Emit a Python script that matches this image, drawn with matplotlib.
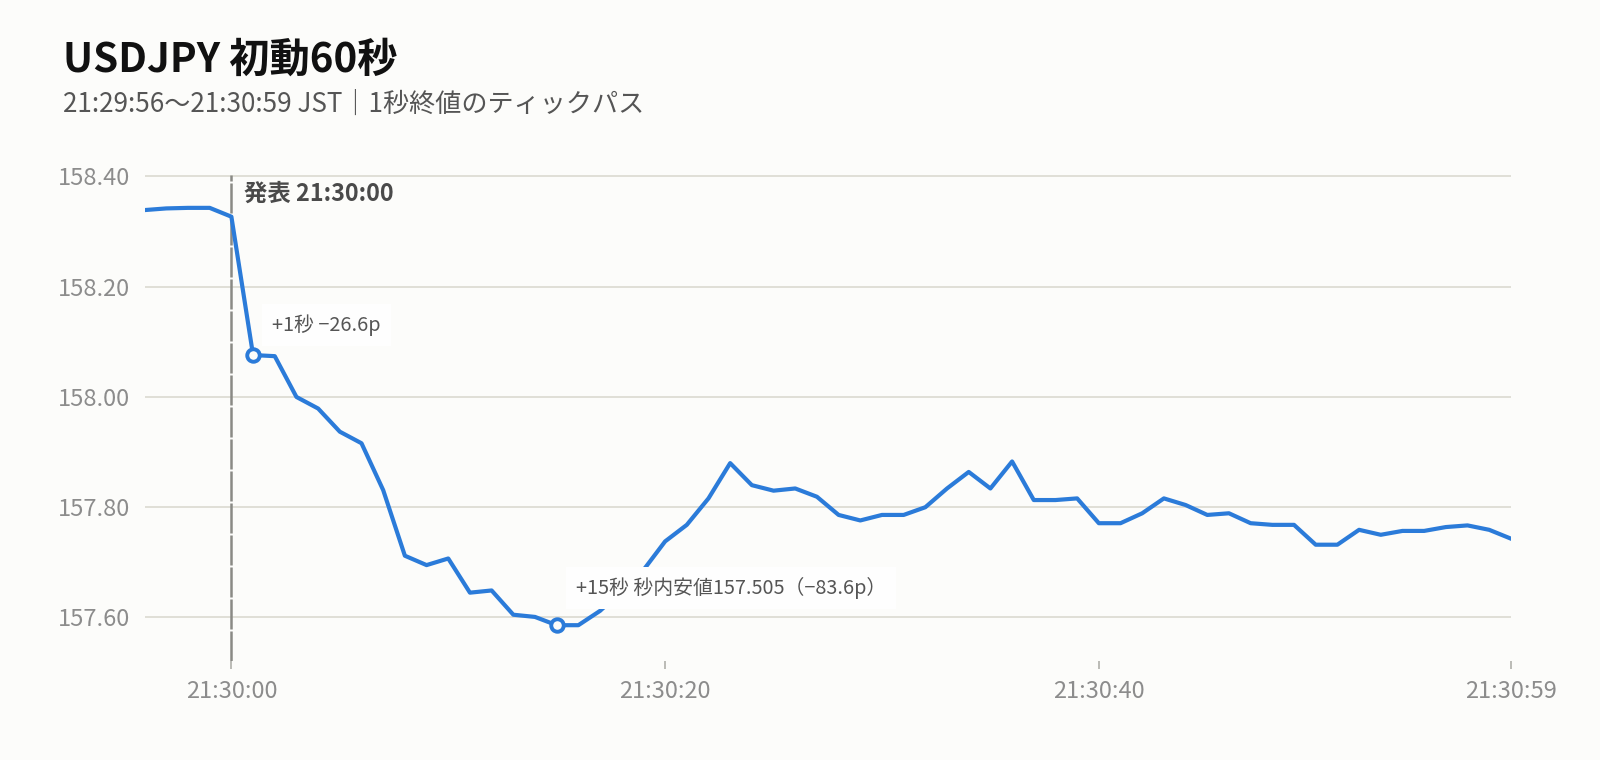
import numpy as np
import matplotlib
matplotlib.use("Agg")
import matplotlib.pyplot as plt

plt.rcParams['font.family'] = ['Noto Sans CJK JP', 'DejaVu Sans']

# seconds from the release (21:30:00), 1-second closes
secs = np.arange(-4, 60)
price = [158.339, 158.342, 158.343, 158.343, 158.327, 158.076, 158.074, 158.000,
         157.979, 157.937, 157.916, 157.831, 157.712, 157.695, 157.707, 157.645,
         157.649, 157.605, 157.601, 157.586, 157.586, 157.612, 157.648, 157.686,
         157.738, 157.768, 157.816, 157.880, 157.840, 157.830, 157.834, 157.819,
         157.786, 157.776, 157.786, 157.786, 157.800, 157.834, 157.864, 157.834,
         157.883, 157.813, 157.813, 157.816, 157.771, 157.771, 157.789, 157.816,
         157.804, 157.786, 157.789, 157.771, 157.768, 157.768, 157.732, 157.732,
         157.759, 157.750, 157.757, 157.757, 157.764, 157.767, 157.759, 157.743]

xtick_pos = [0, 20, 40, 59]
xtick_lab = ["21:30:00", "21:30:20", "21:30:40", "21:30:59"]
ytick_pos = [157.60, 157.80, 158.00, 158.20, 158.40]

marks = [1, 15]
mark_text = ["+1秒 −26.6p", "+15秒 秒内安値157.505（−83.6p）"]
mark_offset = [(19, 24), (19, 31)]

bg = "#fcfcfa"
blue = "#2b7bd9"

fig = plt.figure(figsize=(16, 7.6), dpi=100, facecolor=bg)
ax = fig.add_axes([0.0904, 0.1303, 0.8539, 0.6395], facecolor=bg)

ax.plot(secs, price, color=blue, lw=3, solid_joinstyle='round', zorder=3)

for s, txt, off in zip(marks, mark_text, mark_offset):
    v = price[s + 4]
    ax.plot([s], [v], marker='o', ms=9, mfc=bg, mec=blue, mew=2.8, zorder=4)
    ax.annotate(txt, xy=(s, v), xytext=off, textcoords='offset pixels',
                fontsize=14.3, color="#555555", va='baseline', ha='left', zorder=5,
                bbox=dict(boxstyle='square,pad=0.5', fc='#fefefe', ec='none'))

ax.axvline(0, color="#8a8a85", lw=1.8, ls=(0, (12, 0.8)), zorder=2)
ax.annotate("発表 21:30:00", xy=(0, 1), xycoords=('data', 'axes fraction'),
            xytext=(13, -26), textcoords='offset pixels', fontsize=16.8,
            fontweight='bold', color="#4a4a4a", va='baseline', ha='left')

ax.set_xlim(-4, 59)
ax.set_ylim(157.5211, 158.4027)
ax.set_xticks(xtick_pos, xtick_lab)
ax.set_yticks(ytick_pos, [f"{v:.2f}" for v in ytick_pos])
ax.grid(axis='y', color="#dddcd4", lw=1.3, zorder=1)
ax.tick_params(axis='x', length=6, width=1.2, color="#b0b0aa", pad=8,
               labelsize=17, labelcolor="#8c8c8c")
ax.tick_params(axis='y', length=0, pad=10.5, labelsize=17, labelcolor="#8c8c8c")
for sp in ax.spines.values():
    sp.set_visible(False)

fig.text(63 / 1600, 1 - 71.7 / 760, "USDJPY 初動60秒", fontsize=29,
         fontweight='bold', color="#111111", va='baseline')
fig.text(63 / 1600, 1 - 111.7 / 760, "21:29:56〜21:30:59 JST｜1秒終値のティックパス",
         fontsize=18.8, color="#555555", va='baseline')

fig.savefig("out.png", dpi=100, facecolor=bg)
